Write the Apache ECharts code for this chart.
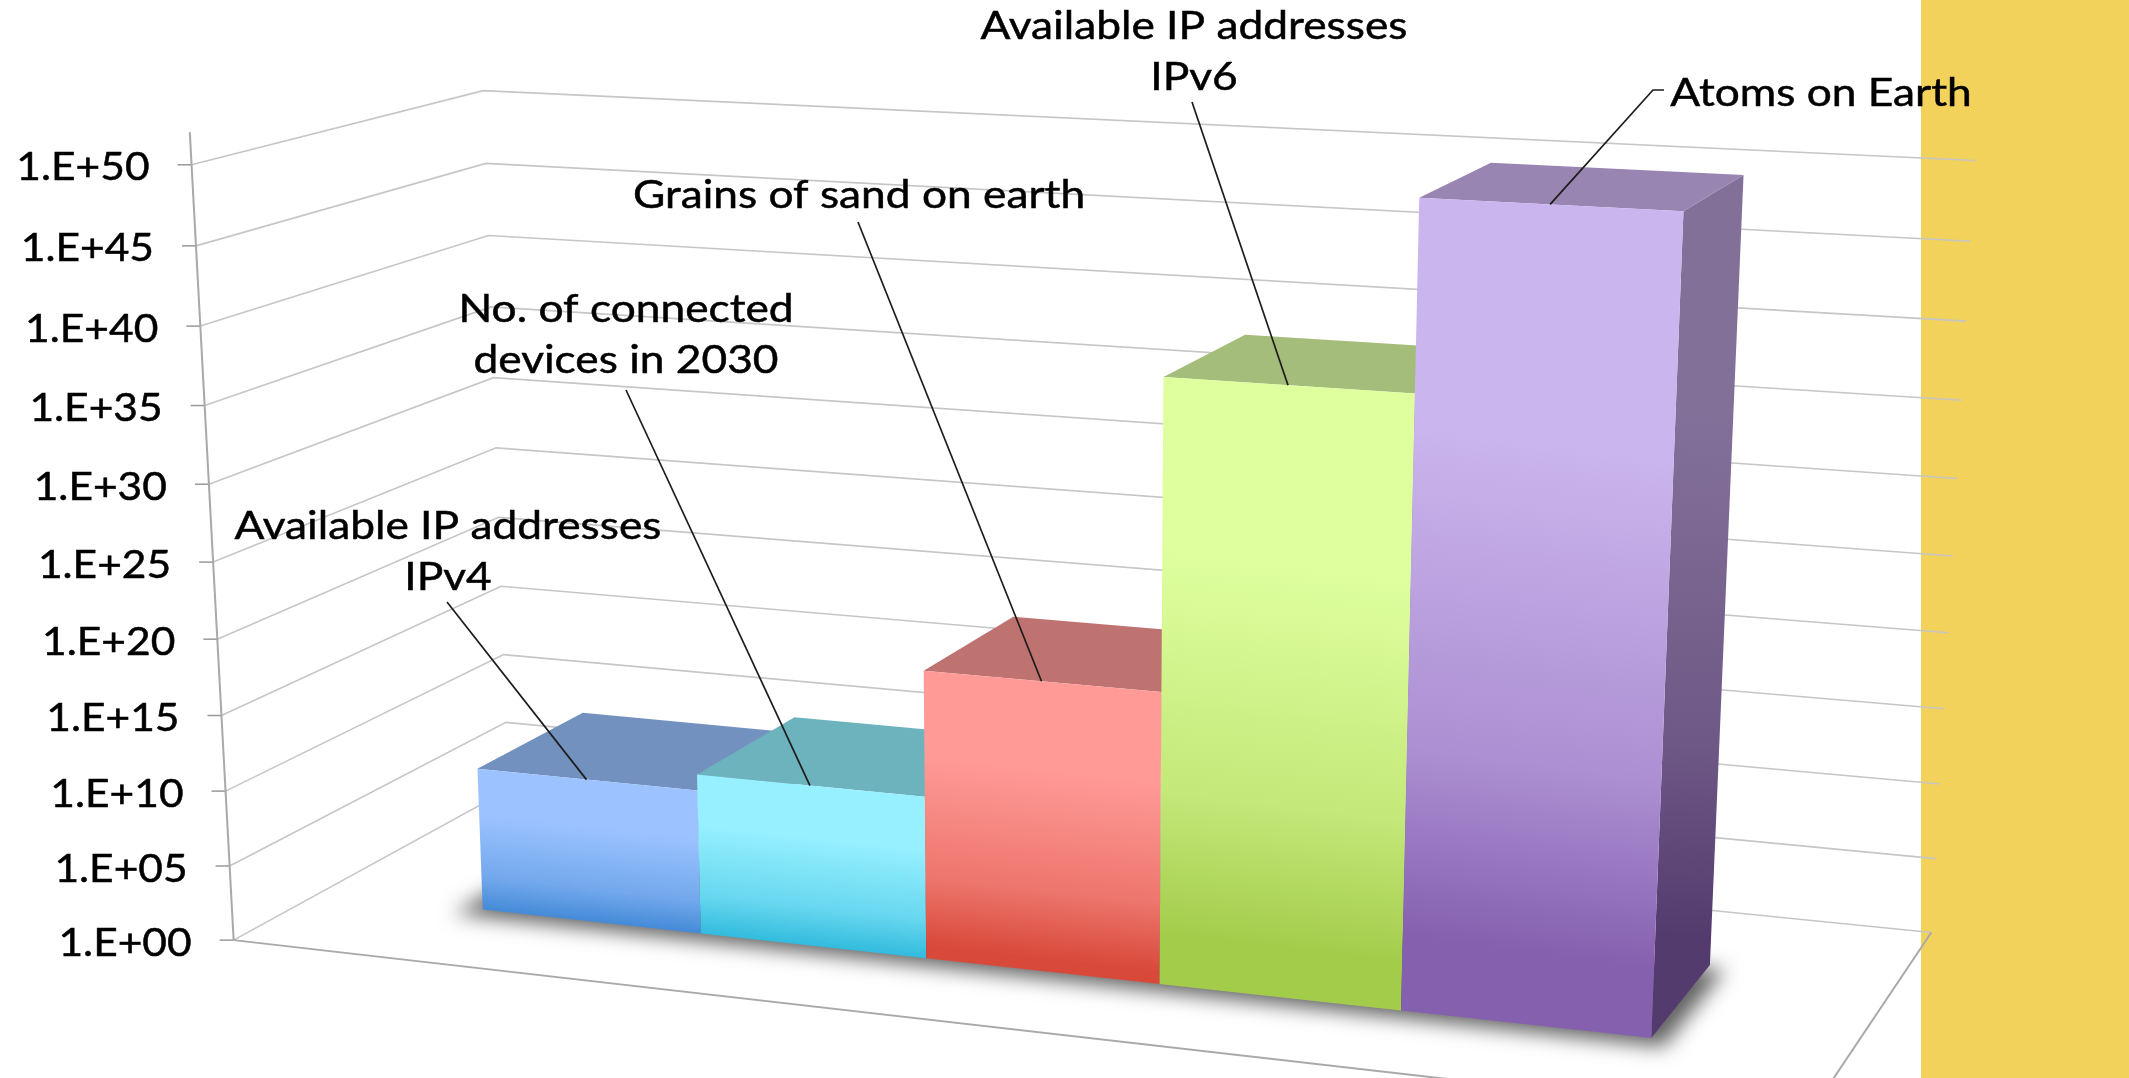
<!DOCTYPE html>
<html><head><meta charset="utf-8">
<style>html,body{margin:0;padding:0;background:#fff}#c{width:2129px;height:1078px;filter:blur(0.6px)}</style>
<script src="https://cdn.jsdelivr.net/npm/echarts@6/dist/echarts.min.js"></script></head>
<body><div id="c"></div>
<script>
const categories=['Available IP addresses\nIPv4','No. of connected\ndevices in 2030','Grains of sand on earth','Available IP addresses\nIPv6','Atoms on Earth'];
const logValues=[9.63,10.7,18.9,38.5,50.1];
const tickValues=[0,5,10,15,20,25,30,35,40,45,50];
const tickLabels=['1.E+00','1.E+05','1.E+10','1.E+15','1.E+20','1.E+25','1.E+30','1.E+35','1.E+40','1.E+45','1.E+50'];

// camera of the perspective box (unit cube -> screen px/1000), bar placement inside the cube
const P=[1.37378,-0.05136,0.33291,0.23365,0.05691,-0.78330,-0.06020,0.94012,-0.10978,-0.04839,0.11448];
const X0=0.1167,BW=0.15348,ZF=0.2975,ZB=0.6979,YMAX=55;
function prj(X,Y,Z){const w=P[8]*X+P[9]*Y+P[10]*Z+1;return [1000*(P[0]*X+P[1]*Y+P[2]*Z+P[3])/w,1000*(P[4]*X+P[5]*Y+P[6]*Z+P[7])/w];}
function mk(api,params){const cs=params.coordSys;return (cat,val,frac,Z)=>{const pt=api.coord([cat,val]);const sz=api.size([1,0])[0];const u=(pt[0]-cs.x)/sz;const v=(cs.y+cs.height-pt[1])/cs.height*YMAX/50;return prj(X0+BW*(u-.5+frac),v,Z);};}

// callout layout: text centre, then the leader's free end(s)
const calloutCentre=[[448,552],[626,335],[859,195],[1194,52],[1821,93]];
const calloutLeader=[[[447,602]],[[626,390]],[[858,222]],[[1192,102]],[[1664,90],[1653,90]]];
const faceColors=[['#9CC3FF','#3E86D4','#7391BE'],['#96F0FF','#2EB9DC','#6CB3BE'],['#FF9A97','#D8493A','#BE7371'],['#DFFF9F','#A4CC4B','#A5BD7A'],['#CBB5EE','#8560AF','#9885B1']];
const sideColors=['#837099','#543B6E'];
const lineC='#c6c6c6',FONT='39px Lato';

function txt(s,x,y,al,sx){return {type:'text',scaleX:sx,originX:x,originY:y,style:{text:s,x:x,y:y,fill:'#000',stroke:'#000',lineWidth:.5,font:FONT,lineHeight:51,textAlign:al,align:al,textVerticalAlign:'middle',verticalAlign:'middle'}};}
function grad(a,b,tl,br){const w=Math.max(1,Math.abs(br[0]-tl[0])),h=Math.max(1,Math.abs(br[1]-tl[1]));const s=Math.min(.6,.11*h/w);
const mid=echarts.color.lerp(.45,[a,b]);
return new echarts.graphic.LinearGradient(s,0,0,1,[{offset:0,color:a},{offset:.28,color:a},{offset:.66,color:mid},{offset:.88,color:b},{offset:1,color:b}]);}
const ch=echarts.init(document.getElementById('c'));
ch.setOption({animation:false,backgroundColor:'#fff',
graphic:[{type:'rect',z:-10,shape:{x:1921,y:0,width:208,height:1078},style:{fill:'#F3D25B'}}],
grid:{left:0,right:0,top:0,bottom:0},
xAxis:{type:'category',data:categories,show:false},
yAxis:{type:'value',min:0,max:YMAX,interval:5,show:false},
series:[
{type:'custom',name:'walls',z:2,data:tickValues.map((v,i)=>[0,v,i]),renderItem(p,api){const v=api.value(1)/50;const a=prj(0,v,0),b=prj(0,v,1),c=prj(1,v,1);const t=[a[0]-14,a[1]];
return {type:'group',children:[{type:'polyline',shape:{points:[a,b,c]},style:{stroke:lineC,lineWidth:1.6,fill:'none'}},
{type:'line',shape:{x1:t[0],y1:t[1],x2:a[0],y2:a[1]},style:{stroke:'#999',lineWidth:1.5}},
txt(tickLabels[api.value(2)],t[0]-28,a[1]+3,'right',1.09)]};}},
{type:'custom',name:'frame',z:3,data:[[0,0]],renderItem(){const l=(a,b)=>({type:'line',shape:{x1:a[0],y1:a[1],x2:b[0],y2:b[1]},style:{stroke:'#a9a9a9',lineWidth:2}});
return {type:'group',children:[l(prj(0,0,0),prj(0,52/50,0)),l(prj(0,0,0),prj(1,0,0)),l(prj(1,0,0),prj(1,0,1))]};}},
{type:'custom',name:'shadow',z:4,data:[[0,0]],renderItem(){const x1=X0-.02,x2=X0+5*BW+.006,z1=ZF-.025,z2=ZB-.005,off=3000;
return {type:'polygon',x:-off,shape:{points:[prj(x1,0,z1),prj(x2,0,z1),prj(x2,0,z2),prj(x1,0,z2)]},style:{fill:'#000',shadowBlur:20,shadowColor:'rgba(0,0,0,.62)',shadowOffsetX:off+6,shadowOffsetY:3}};}},
{type:'custom',name:'bars',z:5,data:logValues.map((v,i)=>[i,v]),renderItem(p,api){const cat=api.value(0),val=api.value(1),q=mk(api,p);const F=faceColors[cat];
const f0=q(cat,0,0,ZF),f1=q(cat,0,1,ZF),t0=q(cat,val,0,ZF),t1=q(cat,val,1,ZF),b1=q(cat,0,1,ZB),u0=q(cat,val,0,ZB),u1=q(cat,val,1,ZB);
return {type:'group',children:[
{type:'polygon',shape:{points:[t1,u1,b1,f1]},style:{fill:grad(sideColors[0],sideColors[1],t1,b1)}},
{type:'polygon',shape:{points:[t0,t1,u1,u0]},style:{fill:F[2]}},
{type:'polygon',shape:{points:[t0,t1,f1,f0]},style:{fill:grad(F[0],F[1],t0,f1)}}]};}},
{type:'custom',name:'callouts',z:6,data:logValues.map((v,i)=>[i,v]),renderItem(p,api){const cat=api.value(0),val=api.value(1),q=mk(api,p);const c=calloutCentre[cat];
return {type:'group',children:[{type:'polyline',shape:{points:calloutLeader[cat].concat([q(cat,val,.5,ZF)])},style:{stroke:'#1c1c1c',lineWidth:1.7,fill:'none'}},
txt(categories[cat],c[0],c[1],'center',1.135)]};}}
]});
</script></body></html>
